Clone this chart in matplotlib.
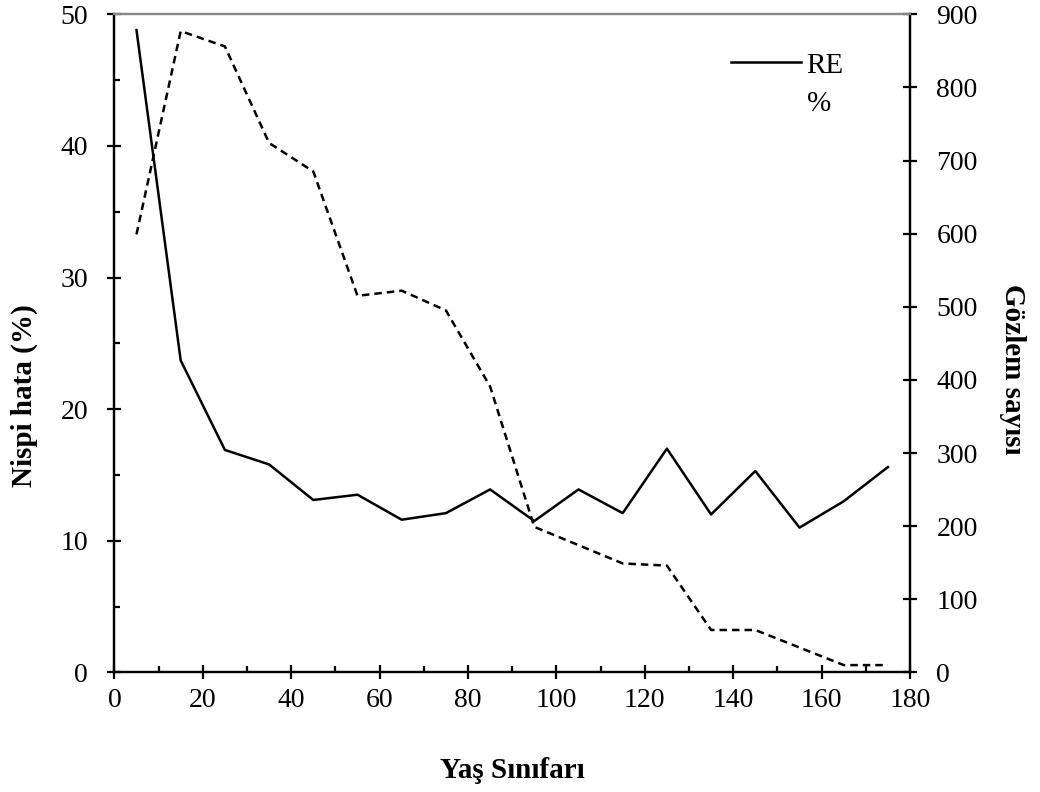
import matplotlib
matplotlib.use("Agg")
import matplotlib.pyplot as pyplot
import matplotlib.ticker as ticker
from matplotlib.lines import Line2D

pyplot.rcParams['font.family'] = ['Liberation Serif', 'DejaVu Serif']

# age classes (class midpoints)
yas = [5, 15, 25, 35, 45, 55, 65, 75, 85, 95, 105, 115, 125, 135, 145, 155, 165, 175]

# relative error (%)
re_yuzde = [48.8, 23.7, 16.9, 15.8, 13.1, 13.5, 11.6, 12.1, 13.9, 11.5,
            13.9, 12.1, 17.0, 12.0, 15.3, 11.0, 13.0, 15.6]

# number of observations
gozlem = [599, 877, 856, 724, 685, 515, 522, 495, 391, 199,
          174, 149, 146, 58, 58, 34, 10, 10]

fig = pyplot.figure(figsize=(10.4, 7.92), dpi=100)
ax1 = fig.add_axes([0.110, 0.151, 0.765, 0.831])
ax2 = ax1.twinx()

re_line, = ax1.plot(yas, re_yuzde, color="black", linewidth=1.8, linestyle="solid")
ax2.plot(yas, gozlem, color="black", linewidth=1.8, linestyle=(0, (3.0, 2.0)))

ax1.set_xlim(0, 180)
ax1.set_ylim(0, 50)
ax2.set_ylim(0, 900)

ax1.xaxis.set_major_locator(ticker.MultipleLocator(20))
ax1.xaxis.set_minor_locator(ticker.MultipleLocator(10))
ax1.yaxis.set_major_locator(ticker.MultipleLocator(10))
ax1.yaxis.set_minor_locator(ticker.MultipleLocator(5))
ax2.yaxis.set_major_locator(ticker.MultipleLocator(100))

for ax in (ax1, ax2):
	for side in ("left", "bottom", "right"):
		ax.spines[side].set_linewidth(1.6)
	ax.spines["top"].set_color("#888888")
	ax.spines["top"].set_linewidth(1.6)

ax1.tick_params(which="major", direction="inout", length=10, width=1.6, labelsize=20)
ax1.tick_params(which="minor", direction="in", length=4, width=1.6)
ax1.tick_params(axis="x", which="major", pad=6)
ax1.tick_params(axis="y", which="major", pad=14)
ax2.tick_params(which="major", direction="inout", length=10, width=1.6, labelsize=20, pad=14)

ax1.set_xlabel("Yaş Sınıfarı", fontsize=21, fontweight="bold", labelpad=32)
ax1.set_ylabel("Nispi hata (%)", fontsize=21, fontweight="bold", labelpad=16)
ax2.set_ylabel("Gözlem sayısı", fontsize=21, fontweight="bold", rotation=-90, labelpad=35)
ax1.yaxis.label.set_y(0.42)
ax2.yaxis.label.set_y(0.46)

# legend: only the RE line, label wraps onto a second line
empty = Line2D([], [], color="none")
ax1.legend([re_line, empty], ["RE", "%"], loc="upper left", bbox_to_anchor=(0.76, 0.96),
	frameon=False, fontsize=21, handlelength=2.4, handletextpad=0.2, labelspacing=0.42,
	borderaxespad=0)

fig.savefig("out.png", dpi=100)
pyplot.close()
